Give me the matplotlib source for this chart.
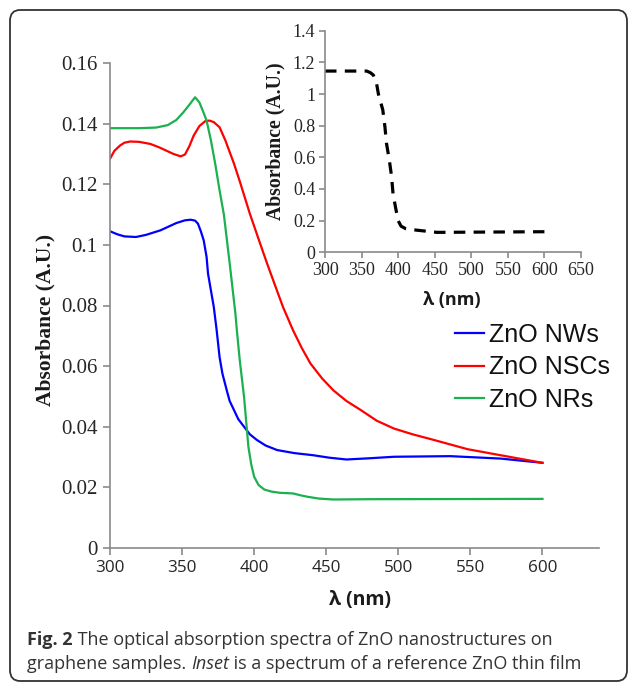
import matplotlib
matplotlib.use("Agg")
import matplotlib.pyplot as plt
from matplotlib.patches import FancyBboxPatch

# ---------------- data ----------------
nws_x = [300, 305, 310, 318, 325, 335, 346, 352, 356, 359, 361, 363, 365, 367, 368, 370, 372, 374, 376, 378,
         381, 383, 386, 389, 393, 397, 402, 408, 416, 428, 441, 452, 464, 480, 497, 536, 571, 600]
nws_y = [0.1045, 0.1035, 0.1028, 0.1026, 0.1033, 0.1048, 0.1072, 0.1081, 0.1083, 0.1080, 0.1070, 0.1045,
         0.1015, 0.0960, 0.0905, 0.0850, 0.0795, 0.0718, 0.0630, 0.0575, 0.0520, 0.0485, 0.0455, 0.0425,
         0.0400, 0.0375, 0.0356, 0.0338, 0.0323, 0.0313, 0.0306, 0.0298, 0.0292, 0.0296, 0.0301, 0.0303,
         0.0295, 0.0281]

nscs_x = [300, 303, 307, 310, 314, 320, 328, 334, 339, 344, 349, 352, 355, 358, 362, 366, 369, 372, 376, 380,
          386, 390, 397, 403, 409, 415, 420, 427, 433, 439, 447, 455, 464, 474, 485, 497, 510, 525, 548, 571, 600]
nscs_y = [0.1284, 0.1310, 0.1328, 0.1337, 0.1341, 0.1340, 0.1333, 0.1322, 0.1311, 0.1300, 0.1292, 0.1298,
          0.1325, 0.1360, 0.1392, 0.1408, 0.1410, 0.1405, 0.1388, 0.1345, 0.1268, 0.1210, 0.1103, 0.1020,
          0.0938, 0.0860, 0.0795, 0.0718, 0.0660, 0.0609, 0.0560, 0.0520, 0.0485, 0.0455, 0.0420, 0.0394,
          0.0375, 0.0356, 0.0326, 0.0306, 0.0281]

nrs_x = [300, 320, 332, 340, 346, 351, 355, 359, 362, 365, 367, 370, 373, 376, 379, 383, 387, 388, 390, 393,
         396, 398, 400, 403, 407, 412, 418, 427, 432, 437, 445, 455, 480, 600]
nrs_y = [0.1385, 0.1385, 0.1387, 0.1395, 0.1412, 0.1438, 0.1462, 0.1487, 0.1470, 0.1435, 0.1410, 0.1345,
         0.1267, 0.1180, 0.1100, 0.0940, 0.0773, 0.0718, 0.0620, 0.0498, 0.0334, 0.0275, 0.0235, 0.0208,
         0.0193, 0.0186, 0.0182, 0.0180, 0.0174, 0.0169, 0.0163, 0.0160, 0.0161, 0.0162]

film_x = [300, 352, 357, 362, 366, 370, 373, 376, 379, 382, 384, 388, 391, 393, 397, 400, 404, 410, 425, 453, 600]
film_y = [1.145, 1.145, 1.145, 1.135, 1.12, 1.08, 1.00, 0.95, 0.90, 0.79, 0.69, 0.58, 0.48, 0.37, 0.27, 0.20,
          0.165, 0.15, 0.14, 0.126, 0.13]

series_labels = ["ZnO NWs", "ZnO NSCs", "ZnO NRs"]
main_xticks = [300, 350, 400, 450, 500, 550, 600]
main_yticks = [0, 0.02, 0.04, 0.06, 0.08, 0.1, 0.12, 0.14, 0.16]
main_yticklabels = ["0", "0.02", "0.04", "0.06", "0.08", "0.1", "0.12", "0.14", "0.16"]
inset_xticks = [300, 350, 400, 450, 500, 550, 600, 650]
inset_yticks = [0, 0.2, 0.4, 0.6, 0.8, 1.0, 1.2, 1.4]
inset_yticklabels = ["0", "0.2", "0.4", "0.6", "0.8", "1", "1.2", "1.4"]

# ---------------- figure ----------------
W, H = 630, 685
fig = plt.figure(figsize=(W / 100, H / 100), dpi=100)

def fx(px):
    return px / W

def fy(py):
    return 1 - py / H

SERIF = "Liberation Serif"
SANS = "Liberation Sans"
TICKSANS = "Open Sans"
spine_c = "#8a8a8a"

# outer rounded frame
frame = FancyBboxPatch((fx(10), fy(681)), fx(617), (681 - 10) / H,
                       boxstyle="round,pad=0,rounding_size=0.016",
                       transform=fig.transFigure, fill=False, edgecolor="#333333", lw=1.3)
fig.patches.append(frame)

# main axes
ax = fig.add_axes([fx(110), fy(548), fx(598.7) - fx(110), (548 - 63) / H])
ax.plot(nws_x, nws_y, color="#0000ff", lw=1.6, label=series_labels[0], solid_joinstyle="round")
ax.plot(nscs_x, nscs_y, color="#ff0000", lw=1.6, label=series_labels[1], solid_joinstyle="round")
ax.plot(nrs_x, nrs_y, color="#1bb050", lw=1.6, label=series_labels[2], solid_joinstyle="round")
ax.set_xlim(300, 639)
ax.set_ylim(0, 0.16)
ax.set_xticks(main_xticks)
ax.set_yticks(main_yticks)
ax.set_yticklabels(main_yticklabels)
for s in ["top", "right"]:
    ax.spines[s].set_visible(False)
for s in ["left", "bottom"]:
    ax.spines[s].set_color(spine_c)
    ax.spines[s].set_linewidth(1.2)
ax.tick_params(axis="x", direction="out", length=5, width=1.2, color=spine_c, pad=4)
ax.tick_params(axis="y", direction="out", length=5, width=1.2, color=spine_c, pad=4)
for t in ax.get_xticklabels():
    t.set_fontfamily(TICKSANS)
    t.set_fontsize(12.3)
    t.set_color("#262626")
for t in ax.get_yticklabels():
    t.set_fontfamily(SERIF)
    t.set_fontsize(15)
    t.set_color("#262626")

fig.text(fx(360), fy(600), "λ (nm)", fontfamily=TICKSANS, fontweight="bold", fontsize=14,
         ha="center", va="center", color="#1a1a1a")
fig.text(fx(45), fy(320), "Absorbance (A.U.)", fontfamily=SERIF, fontweight="bold", fontsize=15.5,
         ha="center", va="center", rotation=90, color="#1a1a1a")

leg = ax.legend(loc="upper left", bbox_to_anchor=(fx(455), fy(323)), bbox_transform=fig.transFigure,
                frameon=False, prop={"family": SANS, "size": 18}, handlelength=1.15,
                handletextpad=0.2, labelspacing=0.34, borderpad=0, borderaxespad=0)
for t in leg.get_texts():
    t.set_color("#111111")

# inset
ia = fig.add_axes([fx(325), fy(252.3), fx(581) - fx(325), (252.3 - 30.7) / H])
ia.plot(film_x, film_y, color="black", lw=2.3, linestyle=(0, (3.6, 2.6)))
ia.set_xlim(300, 650)
ia.set_ylim(0, 1.4)
ia.set_xticks(inset_xticks)
ia.set_yticks(inset_yticks)
ia.set_yticklabels(inset_yticklabels)
for s in ["top", "right"]:
    ia.spines[s].set_visible(False)
for s in ["left", "bottom"]:
    ia.spines[s].set_color(spine_c)
    ia.spines[s].set_linewidth(1.2)
ia.tick_params(direction="out", length=4, width=1.2, color=spine_c, pad=3)
for t in ia.get_xticklabels() + ia.get_yticklabels():
    t.set_fontfamily(SERIF)
    t.set_fontsize(13)
    t.set_color("#262626")
fig.text(fx(452), fy(300), "λ (nm)", fontfamily=TICKSANS, fontweight="bold", fontsize=13,
         ha="center", va="center", color="#1a1a1a")
fig.text(fx(275), fy(141), "Absorbance (A.U.)", fontfamily=SERIF, fontweight="bold", fontsize=14.2,
         ha="center", va="center", rotation=90, color="#1a1a1a")

# caption with mixed styles
renderer = fig.canvas.get_renderer()

def run(parts, x0, ybase):
    x = x0
    for txt, kw in parts:
        t = fig.text(fx(x), fy(ybase), txt, fontfamily="Open Sans", fontsize=13,
                     ha="left", va="baseline", color="#333333", **kw)
        bb = t.get_window_extent(renderer=renderer)
        x += bb.width

run([("Fig. 2", {"fontweight": "bold"}),
     (" The optical absorption spectra of ZnO nanostructures on", {})], 27, 645)
run([("graphene samples. ", {}), ("Inset", {"fontstyle": "italic"}),
     (" is a spectrum of a reference ZnO thin film", {})], 27, 669)

fig.savefig("out.png", dpi=100)
